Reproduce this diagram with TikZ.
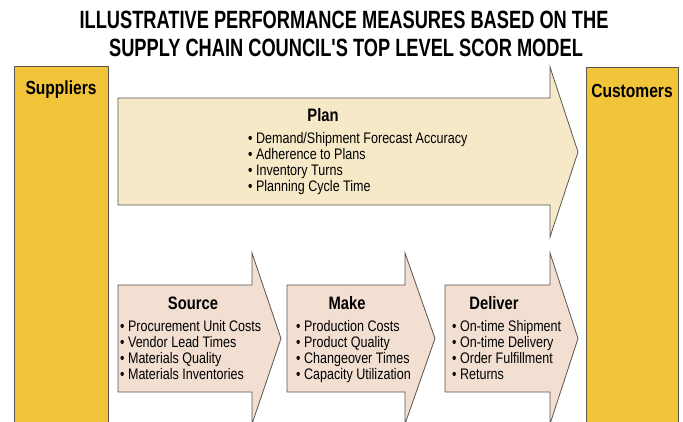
\documentclass[tikz,border=0pt]{standalone}
\usepackage{fontspec}
\setmainfont[FakeStretch=0.82]{Liberation Sans}
\newfontfamily\headfont[FakeStretch=0.73]{Liberation Sans}
\usetikzlibrary{positioning}

\definecolor{gold}{HTML}{F2C43A}
\definecolor{cream}{HTML}{F6E9C8}
\definecolor{blush}{HTML}{F2DFD2}
\definecolor{edge}{HTML}{5A5550}

\tikzset{
  endbox/.style={draw=edge, line width=0.8pt, fill=gold},
  planfill/.style={draw=edge, line width=0.8pt, fill=cream},
  stagefill/.style={draw=edge, line width=0.8pt, fill=blush},
  heading/.style={font=\headfont\bfseries\fontsize{25}{28}\selectfont, inner sep=0pt},
  sidelabel/.style={font=\bfseries\fontsize{19}{22}\selectfont, inner sep=0pt},
  stagetitle/.style={font=\bfseries\fontsize{18}{21}\selectfont, inner sep=0pt},
  items/.style={font=\fontsize{15.3}{16}\selectfont, align=left, inner sep=0pt, anchor=north west}
}

\begin{document}
\begin{tikzpicture}[x=1pt,y=-1pt]
\useasboundingbox (0,0) rectangle (683,421);

% Titel
\node[heading] (head1) at (344,20) {ILLUSTRATIVE PERFORMANCE MEASURES BASED ON THE};
\node[heading] (head2) at (346,48) {SUPPLY CHAIN COUNCIL'S TOP LEVEL SCOR MODEL};

% Lieferanten und Kunden
\draw[endbox] (14,66) rectangle (108,430);
\draw[endbox] (586,67) rectangle (678,430);
\node[sidelabel] (supp) at (61,90) {Suppliers};
\node[sidelabel] (cust) at (632,91) {Customers};

% Plan-Pfeil
\draw[planfill] (118,98) -- (550,98) -- (550,67) -- (578,152) -- (550,237)
  -- (550,205) -- (118,205) -- cycle;
\node[stagetitle] (plan) at (323,115) {Plan};
\node[items] (planlist) at (248,132.5) {%
  • Demand/Shipment Forecast Accuracy\\
  • Adherence to Plans\\
  • Inventory Turns\\
  • Planning Cycle Time};

% Source, Make, Deliver
\foreach \l/\r/\t in {118/252/281, 287/405/435, 445/550/578}
  \draw[stagefill] (\l,285) -- (\r,285) -- (\r,253) -- (\t,338.5) -- (\r,424)
    -- (\r,392) -- (\l,392) -- cycle;

\node[stagetitle] (source) at (193,303) {Source};
\node[items] (sourcelist) at (120,320.5) {%
  • Procurement Unit Costs\\
  • Vendor Lead Times\\
  • Materials Quality\\
  • Materials Inventories};

\node[stagetitle] (make) at (347,303) {Make};
\node[items] (makelist) at (296,320.5) {%
  • Production Costs\\
  • Product Quality\\
  • Changeover Times\\
  • Capacity Utilization};

\node[stagetitle] (deliver) at (494,303) {Deliver};
\node[items] (deliverlist) at (452,320.5) {%
  • On-time Shipment\\
  • On-time Delivery\\
  • Order Fulfillment\\
  • Returns};
\end{tikzpicture}
\end{document}
